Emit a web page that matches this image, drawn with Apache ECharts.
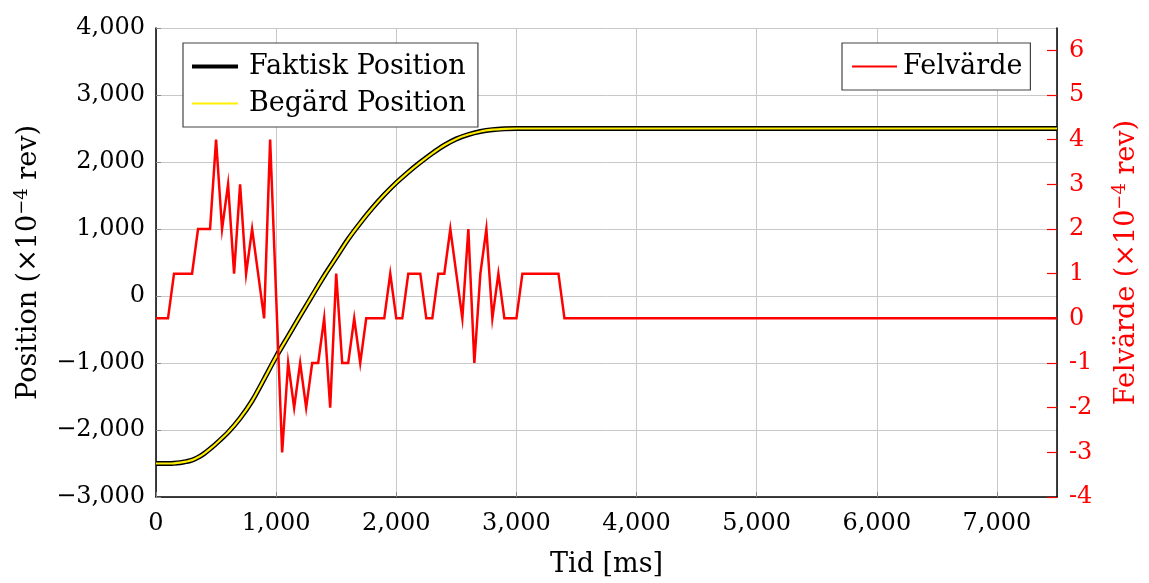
<!DOCTYPE html>
<html>
<head>
<meta charset="utf-8">
<script src="https://cdn.jsdelivr.net/npm/echarts@6/dist/echarts.min.js"></script>
<style>
  html, body { margin: 0; padding: 0; background: #fff; }
  #chart { width: 1149px; height: 583px; }
</style>
</head>
<body>
<div id="chart"></div>
<script>
// tid [ms] och position (x10^-4 rev), avläst
const posTime = [0, 100, 150, 200, 250, 300, 350, 400, 450, 500, 600, 700, 800, 900, 1000, 1100, 1200, 1300,
  1400, 1500, 1600, 1700, 1800, 1900, 2000, 2100, 2200, 2300, 2400, 2500, 2600, 2700, 2800, 2900, 3000, 7500]
const posValue = [-2500, -2500, -2497, -2488, -2472, -2450, -2408, -2352, -2282, -2205, -2035, -1825,
  -1565, -1240, -905, -600, -295, 5, 300, 575, 850, 1090, 1310, 1510, 1690, 1850, 1995, 2130, 2250,
  2345, 2410, 2455, 2482, 2495, 2500, 2500]

// felvärde (x10^-4 rev)
const errTime = [0, 50, 100, 150, 200, 250, 300, 350, 400, 450, 500, 550, 600, 650, 700, 750, 800, 850,
  900, 950, 1050, 1100, 1150, 1200, 1250, 1300, 1350, 1400, 1450, 1500, 1550, 1600, 1650, 1700, 1750,
  1800, 1850, 1900, 1950, 2000, 2050, 2100, 2150, 2200, 2250, 2300, 2350, 2400, 2450, 2500, 2550, 2600,
  2650, 2700, 2750, 2800, 2850, 2900, 2950, 3000, 3050, 3100, 3150, 3200, 3250, 3300, 3350, 3400, 7500]
const errValue = [0, 0, 0, 1, 1, 1, 1, 2, 2, 2, 4, 2, 3, 1, 3, 1, 2, 1,
  0, 4, -3, -1, -2, -1, -2, -1, -1, 0, -2, 1, -1, -1, 0, -1, 0,
  0, 0, 0, 1, 0, 0, 1, 1, 1, 0, 0, 1, 1, 2, 1, 0, 2,
  -1, 1, 2, 0, 1, 0, 0, 0, 1, 1, 1, 1, 1, 1, 1, 0, 0]

const xTicks = [0, 1000, 2000, 3000, 4000, 5000, 6000, 7000]

const font = 'DejaVu Serif'
const fs = 24   // ticks
const fsText = 27 // names, legend

function zip(a, b) {
  let out = []
  for (let i = 0; i < a.length; i++) out.push([a[i], b[i]])
  return out
}
function fmt(v) {
  return (v < 0 ? '\u2212' : '') + Math.abs(v).toLocaleString('en-US')
}

function nameRich(color) {
  return {
    a: { fontFamily: font, fontSize: fsText, color: color },
    s: { fontFamily: font, fontSize: 18, color: color, verticalAlign: 'top', padding: [0, 0, 13, 0] }
  }
}

let option = {
  animation: false,
  backgroundColor: '#fff',
  grid: { left: 156, right: 92, top: 28, bottom: 86 },
  legend: [
    {
      orient: 'vertical',
      left: 183, top: 43,
      padding: [10, 12, 10, 7],
      itemGap: 10,
      itemWidth: 46,
      itemHeight: 14,
      backgroundColor: '#fff',
      borderColor: '#444',
      borderWidth: 1.2,
      borderRadius: 0,
      itemStyle: { opacity: 0 },
      textStyle: { fontFamily: font, fontSize: fsText, color: '#000', padding: [0, 0, 0, 6] },
      data: [
        { name: 'Faktisk Position', lineStyle: { width: 4, color: '#000' } },
        { name: 'Begärd Position', lineStyle: { width: 1.8, color: '#ffee00' } }
      ]
    },
    {
      left: 842, top: 43,
      padding: [10, 8, 10, 9],
      itemWidth: 45,
      itemHeight: 14,
      backgroundColor: '#fff',
      borderColor: '#444',
      borderWidth: 1.2,
      borderRadius: 0,
      itemStyle: { opacity: 0 },
      textStyle: { fontFamily: font, fontSize: fsText, color: '#000', padding: [0, 0, 0, 1] },
      data: [{ name: 'Felvärde', lineStyle: { width: 2, color: '#ff0000' } }]
    }
  ],
  xAxis: {
    type: 'value',
    min: 0, max: 7500, interval: 1000,
    name: 'Tid [ms]',
    nameLocation: 'middle',
    nameGap: 54,
    nameTextStyle: { fontFamily: font, fontSize: fsText, color: '#000' },
    axisLine: { show: true, onZero: false, lineStyle: { color: '#000', width: 1.5 } },
    axisTick: { show: true, inside: true, length: 5, lineStyle: { color: '#888' } },
    axisLabel: {
      fontFamily: font, fontSize: fs, color: '#000', margin: 15,
      showMaxLabel: false,
      formatter: v => xTicks.indexOf(v) >= 0 ? fmt(v) : ''
    },
    splitLine: { show: true, lineStyle: { color: '#c8c8c8', width: 1 } }
  },
  yAxis: [
    {
      type: 'value',
      min: -3000, max: 4000, interval: 1000,
      name: '{a|Position (\u00d710}{s|\u22124}{a| rev)}',
      nameLocation: 'middle',
      nameGap: 112,
      nameTextStyle: { rich: nameRich('#000'), color: '#000' },
      axisLine: { show: true, onZero: false, lineStyle: { color: '#000', width: 1.5 } },
      axisTick: { show: true, inside: true, length: 5, lineStyle: { color: '#888' } },
      axisLabel: { fontFamily: font, fontSize: fs, color: '#000', margin: 11, formatter: fmt },
      splitLine: { show: true, lineStyle: { color: '#c8c8c8', width: 1 } }
    },
    {
      type: 'value',
      min: -4, max: 6.5, interval: 1,
      position: 'right',
      name: '{a|Felvärde (\u00d710}{s|\u22124}{a| rev)}',
      nameLocation: 'middle',
      nameGap: 54,
      nameRotate: 90,
      nameTextStyle: { color: '#ff0000', rich: nameRich('#ff0000') },
      axisLine: { show: true, onZero: false, lineStyle: { color: '#000', width: 1.5 } },
      axisTick: { show: true, inside: true, length: 10, lineStyle: { color: '#ff0000', width: 1.2 } },
      axisLabel: {
        fontFamily: font, fontSize: fs, color: '#ff0000', margin: 12,
        showMaxLabel: false,
        formatter: v => Number.isInteger(v) ? String(v) : ''
      },
      splitLine: { show: false }
    }
  ],
  series: [
    {
      name: 'Faktisk Position',
      type: 'line',
      yAxisIndex: 0,
      smooth: 0.3,
      symbol: 'none',
      itemStyle: { color: '#000' },
      lineStyle: { color: '#000', width: 5 },
      data: zip(posTime, posValue),
      z: 2
    },
    {
      name: 'Begärd Position',
      type: 'line',
      yAxisIndex: 0,
      smooth: 0.3,
      symbol: 'none',
      itemStyle: { color: '#ffee00' },
      lineStyle: { color: '#ffee00', width: 2.2 },
      data: zip(posTime, posValue),
      z: 3
    },
    {
      name: 'Felvärde',
      type: 'line',
      yAxisIndex: 1,
      symbol: 'none',
      itemStyle: { color: '#ff0000' },
      lineStyle: { color: '#ff0000', width: 2.5, join: 'miter' },
      data: zip(errTime, errValue),
      z: 4
    }
  ]
}

let myChart = echarts.init(document.getElementById('chart'))
myChart.setOption(option)
</script>
</body>
</html>
